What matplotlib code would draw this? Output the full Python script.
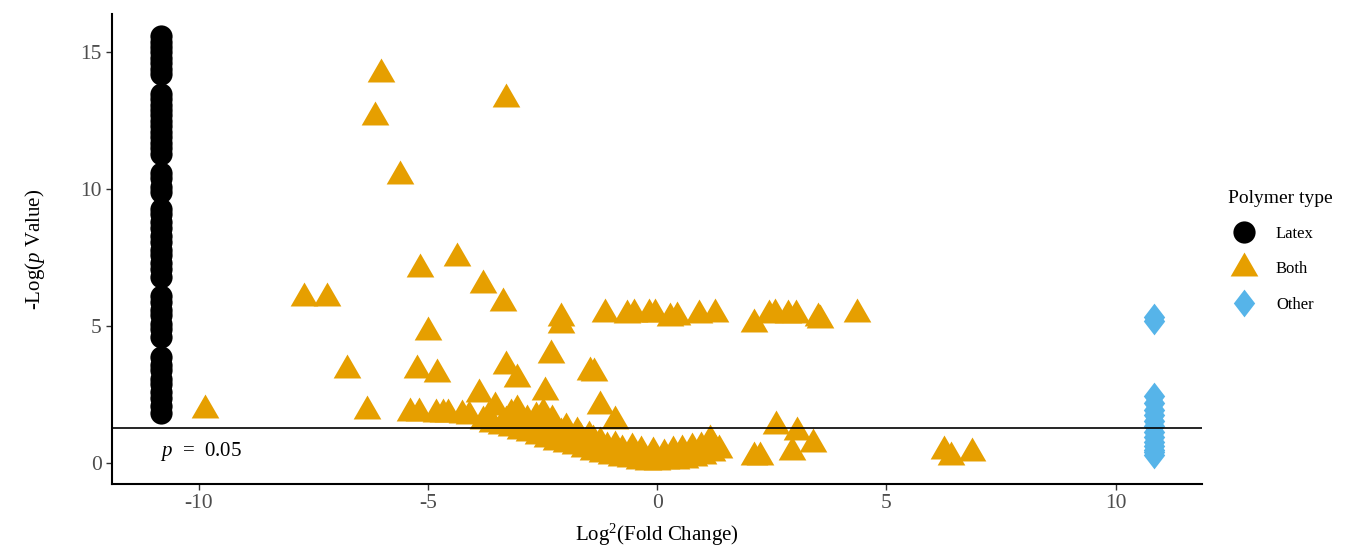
import matplotlib
matplotlib.use("Agg")
import matplotlib.pyplot as plt
from matplotlib.lines import Line2D

plt.rcParams["font.family"] = ["Liberation Serif", "DejaVu Serif"]
plt.rcParams["mathtext.fontset"] = "custom"
plt.rcParams["mathtext.rm"] = "Liberation Serif"
plt.rcParams["mathtext.it"] = "Liberation Serif:italic"
plt.rcParams["axes.unicode_minus"] = False

# ---- data ----
latex_x = -10.84
latex_y = [15.6, 15.4, 15.2, 15.0, 14.8, 14.6, 14.4, 14.2, 13.5, 13.3, 13.1,
           12.9, 12.7, 12.5, 12.3, 12.1, 11.9, 11.7, 11.5, 11.3, 10.6, 10.4,
           10.1, 9.9, 9.3, 9.1, 8.8, 8.6, 8.3, 8.1, 7.8, 7.6, 7.3, 7.1, 6.8,
           6.1, 5.9, 5.6, 5.4, 5.1, 4.9, 4.6, 3.9, 3.6, 3.4, 3.1, 2.9, 2.6,
           2.4, 2.1, 1.85]

both_x = [-6.02, -6.17, -3.29, -5.62, -4.38, -5.17, -3.80, -3.37, -7.70, -7.20,
          -5.01, -6.76, -5.25, -4.80, -3.29, -3.07, -3.90, -2.31, -2.46, -2.09,
          -2.09, -1.47, -1.37, -1.26, -0.93, -9.86, -6.33,
          -1.15, -0.67, -0.50, -0.17, -0.06, 0.27, 0.44, 0.92, 1.25,
          2.12, 2.43, 2.56, 2.85, 3.02, 3.50, 3.55, 4.35,
          -5.40, -5.19, -4.82, -4.68, -4.57, -4.27, -4.10,
          -3.53, -3.20, -3.07, -2.65, -2.50, -2.30, -1.95, -1.68, -1.40, -1.10,
          -0.93, -0.78, -3.70, -3.30, -2.90, -2.70, -2.45, -2.10, -2.55,
          -3.80, -3.60, -3.40, -3.20, -3.00, -2.80, -2.60, -2.40, -2.20, -2.00,
          -1.80, -1.60, -1.40, -1.20, -1.00, -0.80, -0.60, -0.40, -0.20, 0.00,
          0.20, 0.40, 0.60, 0.80, 1.00, 1.20, 1.35,
          -0.55, -0.35, -0.10, 0.15, 0.35, 0.55, 0.75, 0.95, 1.15, 1.22,
          2.12, 2.24, 2.60, 3.05, 2.93, 3.39, 6.26, 6.40, 6.87,
          -2.85, -2.35, -2.0, -1.75, -1.5, -1.25]
both_y = [14.2, 12.66, 13.3, 10.5, 7.5, 7.1, 6.5, 5.85, 6.05, 6.05,
          4.8, 3.4, 3.4, 3.25, 3.55, 3.1, 2.55, 3.95, 2.6, 5.3,
          5.05, 3.35, 3.3, 2.1, 1.55, 1.95, 1.9,
          5.45, 5.4, 5.45, 5.45, 5.45, 5.3, 5.35, 5.4, 5.45,
          5.1, 5.4, 5.45, 5.4, 5.4, 5.3, 5.25, 5.45,
          1.85, 1.85, 1.82, 1.8, 1.8, 1.75, 1.72,
          2.05, 1.8, 1.95, 1.7, 1.85, 1.6, 1.1, 0.95, 0.85, 0.6,
          0.65, 0.5, 1.7, 1.55, 1.45, 1.35, 1.25, 1.1, 1.4,
          1.55, 1.45, 1.38, 1.3, 1.2, 1.1, 1.0, 0.9, 0.8, 0.72,
          0.62, 0.52, 0.42, 0.33, 0.26, 0.2, 0.15, 0.1, 0.07, 0.06,
          0.08, 0.1, 0.14, 0.2, 0.28, 0.38, 0.48,
          0.55, 0.45, 0.4, 0.35, 0.45, 0.5, 0.55, 0.6, 0.85, 0.65,
          0.25, 0.22, 1.38, 1.16, 0.4, 0.72, 0.45, 0.25, 0.38,
          1.6, 1.45, 1.3, 1.15, 1.0, 0.8]

other_x = 10.84
other_y = [5.35, 5.2, 2.45, 2.2, 1.95, 1.75, 1.55, 1.35, 1.15, 0.95, 0.8,
           0.65, 0.5, 0.4, 0.32]

p_cut = 1.301
groups = ["Latex", "Both", "Other"]
colors = {"Latex": "#000000", "Both": "#E69F00", "Other": "#56B4E9"}

tri = [(-1, -0.577), (1, -0.577), (0, 1.155)]
dia = [(0, 1.3), (1, 0), (0, -1.3), (-1, 0)]

fig = plt.figure(figsize=(13.52, 5.47), dpi=100)
ax = fig.add_axes([0.0828, 0.1152, 0.806, 0.859])

ax.plot([latex_x] * len(latex_y), latex_y, ls="none", marker="o", ms=16,
        color=colors["Latex"], mew=0)
ax.plot(both_x, both_y, ls="none", marker=tri, ms=23, color=colors["Both"], mew=0)
ax.plot([other_x] * len(other_y), other_y, ls="none", marker=dia, ms=20,
        color=colors["Other"], mew=0)

ax.axhline(p_cut, color="black", lw=1.2)
ax.text(-10.85, 0.45, r"$p$  =  0.05", fontsize=15, ha="left", va="center")

ax.set_xlim(-11.9, 11.88)
ax.set_ylim(-0.75, 16.4)
ax.set_xticks([-10, -5, 0, 5, 10])
ax.set_yticks([0, 5, 10, 15])
ax.tick_params(labelsize=15.5, labelcolor="#4D4D4D", length=4, width=1, color="#333333")
for s in ["top", "right"]:
    ax.spines[s].set_visible(False)
for s in ["left", "bottom"]:
    ax.spines[s].set_linewidth(1.5)

ax.set_xlabel(r"Log$^2$(Fold Change)", fontsize=15, labelpad=6)
ax.set_ylabel(r"-Log($p$ Value)", fontsize=15, labelpad=24)

handles = [
    Line2D([], [], ls="none", marker="o", ms=16, color=colors["Latex"], mew=0),
    Line2D([], [], ls="none", marker=tri, ms=23, color=colors["Both"], mew=0),
    Line2D([], [], ls="none", marker=dia, ms=20, color=colors["Other"], mew=0),
]
leg = ax.legend(handles, groups, title="Polymer type", loc="center left",
                bbox_to_anchor=(1.01, 0.495), frameon=False, fontsize=12,
                title_fontsize=14, handlelength=2.0, handletextpad=0.9,
                labelspacing=1.15)
leg._legend_box.align = "left"

fig.savefig("out.png", dpi=100)
